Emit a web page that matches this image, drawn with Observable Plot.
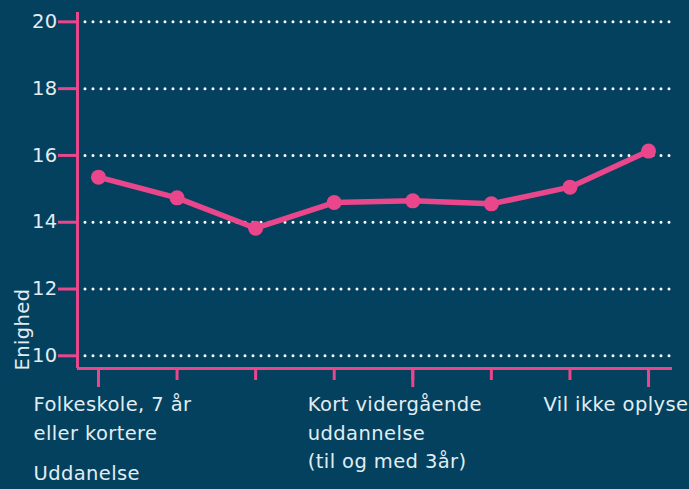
<!DOCTYPE html>
<html>
<head>
<meta charset="utf-8">
<script src="https://cdn.jsdelivr.net/npm/d3@7"></script>
<script src="https://cdn.jsdelivr.net/npm/@observablehq/plot@0.6"></script>
<style>
  html, body { margin: 0; padding: 0; background: #03415e; }
  #chart svg { display: block; }
  #chart svg text { letter-spacing: 0.4px; }
</style>
</head>
<body>
<div id="chart"></div>
<script>
const categories = [
  "Folkeskole, 7 år eller kortere",
  "Folkeskole, 8-10 år",
  "Gymnasial uddannelse",
  "Erhvervsfaglig uddannelse",
  "Kort vidergående uddannelse (til og med 3år)",
  "Mellemlang videregående uddannelse",
  "Lang videregående uddannelse",
  "Vil ikke oplyse"
];
const values = [15.35, 14.73, 13.82, 14.59, 14.64, 14.55, 15.05, 16.13];
const yTicks = [10, 12, 14, 16, 18, 20];
const tickLabels = [
  "Folkeskole, 7 år\neller kortere", "", "", "",
  "Kort vidergående\nuddannelse\n(til og med 3år)", "", "",
  "Vil ikke oplyse"
];
const yLabel = "Enighed";
const xLabel = "Uddanelse";

const bg = "#03415e";
const pink = "#e9468b";
const textColor = "#e1edf3";

const data = categories.map((c, i) => ({i, c, v: values[i], label: tickLabels[i]}));
const labelled = data.filter(d => d.label);
const xDomain = [-0.267, categories.length - 1 + 0.305];
const yDomain = [9.62, 20.28];
const font = 19.5;

const chart = Plot.plot({
  width: 689,
  height: 489,
  marginLeft: 77,
  marginRight: 17,
  marginTop: 12,
  marginBottom: 121,
  style: {background: bg, color: textColor, fontFamily: "'DejaVu Sans', sans-serif", fontSize: font + "px"},
  x: {type: "linear", domain: xDomain, axis: null},
  y: {domain: yDomain, axis: null},
  marks: [
    Plot.ruleY(yTicks, {stroke: "white", strokeWidth: 3, strokeDasharray: "0 8", strokeLinecap: "round"}),
    Plot.axisY(yTicks, {tickSize: 19, tickPadding: 1, stroke: pink, strokeWidth: 3, fill: textColor, fontSize: font, label: null}),
    Plot.axisX(d3.range(categories.length), {tickSize: 12, stroke: pink, strokeWidth: 3, tickFormat: () => "", label: null}),
    Plot.axisX(labelled.map(d => d.i), {tickSize: 19, stroke: pink, strokeWidth: 3, tickFormat: () => "", label: null}),
    Plot.ruleY([yDomain[0]], {stroke: pink, strokeWidth: 3}),
    Plot.ruleX([xDomain[0]], {stroke: pink, strokeWidth: 3}),
    Plot.line(data, {x: "i", y: "v", stroke: pink, strokeWidth: 5.5}),
    Plot.dot(data, {x: "i", y: "v", r: 7.5, fill: pink}),
    Plot.text(labelled.slice(0, 1), {x: "i", y: () => yDomain[0], text: "label", textAnchor: "start", lineAnchor: "top", dx: -65, dy: 23, lineHeight: 1.44, fill: textColor, fontSize: font}),
    Plot.text(labelled.slice(1), {x: "i", y: () => yDomain[0], text: "label", textAnchor: "start", lineAnchor: "top", dx: -105, dy: 23, lineHeight: 1.44, fill: textColor, fontSize: font}),
    Plot.text([xLabel], {frameAnchor: "bottom-left", textAnchor: "start", lineAnchor: "top", dx: -44, dy: 98, fill: textColor, fontSize: font}),
    Plot.text([yLabel], {frameAnchor: "bottom-left", rotate: -90, textAnchor: "start", lineAnchor: "middle", dx: -55, dy: 2, fill: textColor, fontSize: font})
  ]
});
document.getElementById("chart").append(chart);
</script>
</body>
</html>
